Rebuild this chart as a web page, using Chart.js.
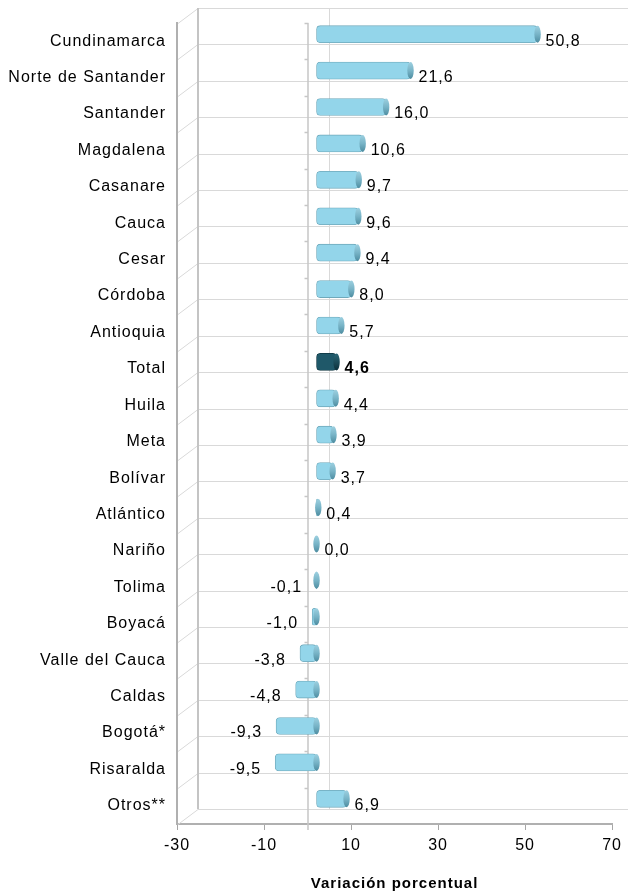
<!DOCTYPE html>
<html>
<head>
<meta charset="utf-8">
<script src="https://cdn.jsdelivr.net/npm/chart.js@4/dist/chart.umd.min.js"></script>
<style>
  html, body { margin: 0; padding: 0; background: #fff; }
  #wrap { width: 628px; height: 894px; }
</style>
</head>
<body>
<div id="wrap"><canvas id="barChart" width="628" height="894"></canvas></div>
<script>
// departamentos, variación porcentual
const categories = ["Cundinamarca", "Norte de Santander", "Santander", "Magdalena", "Casanare",
  "Cauca", "Cesar", "Córdoba", "Antioquia", "Total", "Huila", "Meta", "Bolívar", "Atlántico",
  "Nariño", "Tolima", "Boyacá", "Valle del Cauca", "Caldas", "Bogotá*", "Risaralda", "Otros**"];
const values = [50.8, 21.6, 16.0, 10.6, 9.7, 9.6, 9.4, 8.0, 5.7, 4.6, 4.4, 3.9, 3.7, 0.4,
  0.0, -0.1, -1.0, -3.8, -4.8, -9.3, -9.5, 6.9];
const xTicks = [-30, -10, 10, 30, 50, 70];
const axisTitle = "Variación porcentual";
const highlight = "Total";

const FONT = "'Liberation Sans', Arial, sans-serif";
const DEPTH_X = 21, DEPTH_Y = 15;   // fondo de la caja 3D
const SHIFT_X = 9, SHIFT_Y = 7;     // plano de las barras
const BAR_H = 17;

function barFill(ctx) {
  const isTotal = categories[ctx.dataIndex] === highlight;
  const el = ctx.element;
  if (!el || el.y === undefined || isNaN(el.y)) return isTotal ? "#1f5869" : "#93d5ea";
  const g = ctx.chart.ctx.createLinearGradient(0, el.y - BAR_H / 2, 0, el.y + BAR_H / 2);
  if (isTotal) {
    g.addColorStop(0, "#3a7c8e");
    g.addColorStop(0.3, "#245f70");
    g.addColorStop(1, "#103a46");
  } else {
    g.addColorStop(0, "#c4eefa");
    g.addColorStop(0.3, "#a3e0f3");
    g.addColorStop(0.75, "#8ccde2");
    g.addColorStop(1, "#5f9fb4");
  }
  return g;
}

const spacing = {
  id: "spacing",
  beforeLayout(chart) { chart.ctx.letterSpacing = "1px"; },
  beforeDraw(chart) { chart.ctx.letterSpacing = "1px"; }
};

// caja 3D: pared del fondo, piso lateral y líneas de división
const box3d = {
  id: "box3d",
  beforeDatasetsDraw(chart) {
    const ctx = chart.ctx;
    const a = chart.chartArea;
    const y = chart.scales.y;
    const x0 = chart.scales.x.getPixelForValue(0);
    ctx.save();
    ctx.lineWidth = 1;
    ctx.strokeStyle = "#d9d9d9";
    ctx.beginPath();
    for (let i = 0; i <= categories.length; i++) {
      const yy = Math.round(y.getPixelForValue(i - 0.5)) + 0.5;
      ctx.moveTo(a.left + DEPTH_X, yy - DEPTH_Y);
      ctx.lineTo(chart.width, yy - DEPTH_Y);
      ctx.moveTo(a.left + 1, yy);
      ctx.lineTo(a.left + DEPTH_X, yy - DEPTH_Y);
    }
    ctx.moveTo(Math.round(x0) + DEPTH_X + 0.5, a.top - DEPTH_Y);
    ctx.lineTo(Math.round(x0) + DEPTH_X + 0.5, a.bottom - DEPTH_Y);
    ctx.stroke();
    ctx.strokeStyle = "#c4c4c4";
    ctx.lineWidth = 2;
    ctx.beginPath();
    ctx.moveTo(a.left + DEPTH_X, a.top - DEPTH_Y);
    ctx.lineTo(a.left + DEPTH_X, a.bottom - DEPTH_Y);
    ctx.stroke();
    // eje de categorías en cero
    ctx.strokeStyle = "#c6c6c6";
    ctx.lineWidth = 1.5;
    ctx.beginPath();
    ctx.moveTo(Math.round(x0), a.top);
    ctx.lineTo(Math.round(x0), a.bottom + 6);
    for (let i = 0; i < categories.length; i++) {
      const yy = Math.round(y.getPixelForValue(i - 0.5)) + 0.5;
      ctx.moveTo(x0 - 3, yy);
      ctx.lineTo(x0 + 1, yy);
    }
    ctx.stroke();
    ctx.restore();
    // barras en el plano medio
    ctx.save();
    ctx.translate(SHIFT_X, -SHIFT_Y);
  },
  afterDatasetsDraw(chart) {
    const ctx = chart.ctx;
    const meta = chart.getDatasetMeta(0);
    meta.data.forEach((bar, i) => {
      const isTotal = categories[i] === highlight;
      const xe = Math.max(bar.x, bar.base);
      const g = ctx.createLinearGradient(0, bar.y - BAR_H / 2, 0, bar.y + BAR_H / 2);
      if (isTotal) {
        g.addColorStop(0, "#2c6878");
        g.addColorStop(1, "#0c303b");
      } else {
        g.addColorStop(0, "#9dd0e0");
        g.addColorStop(0.5, "#78b4c7");
        g.addColorStop(1, "#4d8ca0");
      }
      ctx.beginPath();
      ctx.ellipse(xe, bar.y, 3.2, BAR_H / 2, 0, 0, Math.PI * 2);
      ctx.fillStyle = g;
      ctx.fill();
    });
    ctx.restore();
    // rótulos de valor
    ctx.save();
    ctx.fillStyle = "#000";
    ctx.textBaseline = "middle";
    meta.data.forEach((bar, i) => {
      const v = values[i];
      const txt = v.toFixed(1).replace(".", ",");
      ctx.font = (categories[i] === highlight ? "bold " : "") + "16px " + FONT;
      if (v < 0) {
        ctx.textAlign = "right";
        ctx.fillText(txt, bar.x - 5, bar.y);
      } else {
        ctx.textAlign = "left";
        ctx.fillText(txt, Math.max(bar.x, bar.base) + SHIFT_X + 8, bar.y);
      }
    });
    ctx.restore();
  }
};

new Chart(document.getElementById("barChart"), {
  type: "bar",
  data: {
    labels: categories,
    datasets: [{
      data: values,
      backgroundColor: barFill,
      borderColor: ctx => categories[ctx.dataIndex] === highlight ? "#0f3540" : "#6fa9bb",
      borderWidth: 0.8,
      borderRadius: 4,
      borderSkipped: false,
      barThickness: BAR_H
    }]
  },
  plugins: [spacing, box3d],
  options: {
    responsive: false,
    animation: false,
    indexAxis: "y",
    layout: { padding: { top: 23, right: 15, left: 0, bottom: 0 } },
    plugins: {
      legend: { display: false },
      tooltip: { enabled: false }
    },
    scales: {
      x: {
        min: -30,
        max: 70,
        afterBuildTicks: scale => {
          scale.ticks = xTicks.map(v => ({ value: v }));
        },
        afterFit: scale => { scale.height = 70; },
        ticks: {
          color: "#000",
          font: { family: FONT, size: 16 },
          padding: 6,
          maxRotation: 0
        },
        grid: {
          drawOnChartArea: false,
          tickColor: "#a6a6a6",
          tickLength: 6
        },
        border: { color: "#b0b0b0", width: 2 },
        title: {
          display: true,
          text: axisTitle,
          color: "#000",
          font: { family: FONT, size: 15, weight: "bold" },
          padding: { top: 0, bottom: 1 }
        }
      },
      y: {
        afterFit: scale => { scale.width = 177; },
        grid: { display: false },
        border: { color: "#b0b0b0", width: 2 },
        ticks: {
          color: "#000",
          font: { family: FONT, size: 16 },
          padding: 3
        }
      }
    }
  }
});
</script>
</body>
</html>
